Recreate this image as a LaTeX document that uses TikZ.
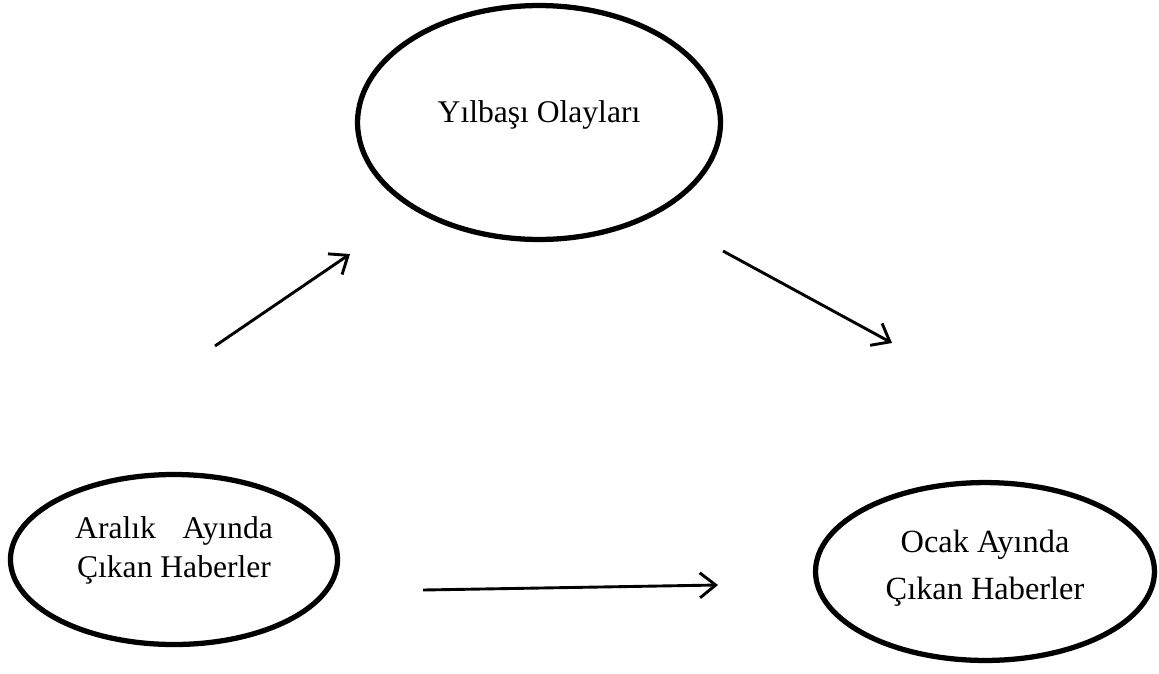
\documentclass[tikz,border=0pt]{standalone}
\usepackage{fontspec}
\setmainfont{Liberation Serif}
\usepackage{tikz}
\usetikzlibrary{arrows.meta,shapes.geometric}
\tikzset{olay/.style={ellipse,draw=black,line width=2pt,inner sep=0pt,align=center},ok/.style={-{Straight Barb[length=6pt,width=9.5pt]},draw=black,line width=1.1pt}}

\begin{document}
\begin{tikzpicture}[x=0.38pt,y=-0.38pt]
\useasboundingbox (0,0) rectangle (1159,673);
\node[olay,minimum width=137.9pt,minimum height=88.9pt,font=\fontsize{12}{14.8}\selectfont,text depth=8.4pt] (yilbasi) at (539,122.5) {Yılbaşı Olayları};
\node[olay,minimum width=124.3pt,minimum height=64.6pt,font=\fontsize{12}{14.8}\selectfont,text depth=9.3pt] (aralik) at (174,559.5) {Aralık\hspace{0.85em}Ayında\\Çıkan Haberler};
\node[olay,minimum width=128.8pt,minimum height=67.6pt,font=\fontsize{12.3}{17.9}\selectfont,text depth=5pt] (ocak) at (985,571.5) {Ocak Ayında\\Çıkan Haberler};
\coordinate (a1) at (215,346);\coordinate (y1) at (350,254);
\coordinate (y2) at (723,251);\coordinate (o1) at (892,343);
\coordinate (a2) at (423,590);\coordinate (o2) at (718,585);
\draw[ok] (a1)--(y1);\draw[ok] (y2)--(o1);\draw[ok] (a2)--(o2);
\end{tikzpicture}
\end{document}
